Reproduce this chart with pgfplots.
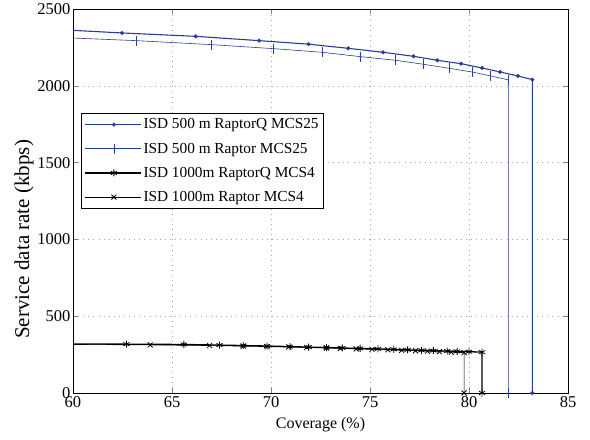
\documentclass[border=0pt]{standalone}
\usepackage{pgfplots}
\pgfplotsset{compat=1.18}
\usepackage{fontspec}
\setmainfont{Liberation Serif}
\definecolor{mblue}{RGB}{40,62,150}

\begin{document}
\begin{tikzpicture}
\begin{axis}[
    scale only axis,
    width=495pt, height=384pt,
    xmin=60, xmax=85,
    ymin=0, ymax=2500,
    xtick={60,65,...,85},
    ytick={0,500,...,2500},
    tick align=inside,
    major tick length=5pt,
    xmajorgrids=true, ymajorgrids=true,
    major grid style={gray!70, dash pattern=on 0.6pt off 4.5pt},
    axis line style={black, line width=0.8pt},
    /pgf/number format/assume math mode=true,
    /pgf/number format/1000 sep={},
    tick label style={font=\fontsize{16.5}{17}\selectfont},
    yticklabel style={xshift=1pt},
    xlabel={Coverage (\%)},
    ylabel={Service data rate (kbps)},
    xlabel style={font=\fontsize{16}{17}\selectfont,
        at={(axis description cs:0.5,-0.083)}, anchor=center},
    ylabel style={font=\fontsize{21}{22}\selectfont,
        at={(axis description cs:-0.099,0.40)}, anchor=center},
    legend cell align=left,
    legend image code/.code={
        \path (0pt,0pt) -- (56pt,0pt);
        \draw[mark indices={2}]
        plot coordinates {(5pt,0pt) (29pt,0pt) (53pt,0pt)};},
    legend style={at={(0.016,0.728)}, anchor=north west,
        font=\fontsize{15.3}{17}\selectfont,
        draw=black, line width=0.6pt, inner sep=3pt,
        row sep=8.5pt},
]
% ISD 500 m RaptorQ MCS25
\addplot[color=mblue, line width=1.1pt, mark=*, mark size=1.4pt,
    mark indices={2,3,4,5,6,7,8,9,10,11,12,13,14,15}]
    coordinates {
    (60,2361)(62.47,2344)(66.2,2322)(69.4,2294)(71.9,2271)(73.9,2244)
    (75.66,2218)(77.2,2192)(78.4,2166)(79.6,2144)(80.66,2116)(81.57,2090)
    (82.47,2064)(83.2,2040)(83.2,0)
    };
\addlegendentry{ISD 500 m RaptorQ MCS25}
% ISD 500 m Raptor MCS25
\addplot[color=mblue, line width=0.6pt, mark=|, mark size=5pt,
    mark options={line width=0.6pt},
    mark indices={2,3,4,5,6,7,8,9,10,11,12,13}]
    coordinates {
    (60,2311)(63.2,2294)(67.0,2268)(70.1,2242)(72.6,2218)(74.5,2190)
    (76.3,2166)(77.7,2140)(79.0,2114)(80.15,2090)(81.1,2064)(82.0,2038)
    (82.0,0)
    };
\addlegendentry{ISD 500 m Raptor MCS25}
% ISD 1000m RaptorQ MCS4
\addplot[color=black, line width=1.3pt, mark=asterisk, mark size=3.5pt,
    mark options={line width=0.8pt},
    mark indices={2,3,4,5,6,7,8,9,10,11,12,13,14,15,16,17,18,19,20,21}]
    coordinates {
    (60,319)(62.7,318)(65.6,316)(67.4,312)(68.6,309)(69.8,306)(70.96,302)
    (71.9,299)(72.8,296)(73.6,293)(74.5,290)(75.4,287)(76.2,284)(76.9,281)
    (77.6,278)(78.2,276)(78.9,273)(79.4,271)(80.0,269)(80.66,266)(80.66,0)
    };
\addlegendentry{ISD 1000m RaptorQ MCS4}
% ISD 1000m Raptor MCS4
\addplot[color=black, line width=0.6pt, mark=x, mark size=3.5pt,
    mark options={line width=0.8pt},
    mark indices={2,3,4,5,6,7,8,9,10,11,12,13,14,15,16,17,18,19,20}]
    coordinates {
    (60,316)(63.9,313)(66.9,309)(68.6,305)(69.8,302)(70.9,299)(71.8,296)
    (72.8,293)(73.5,290)(74.3,287)(75.1,284)(75.9,281)(76.6,278)(77.3,275)
    (77.9,272)(78.5,269)(79.1,266)(79.75,263)(79.75,0)
    };
\addlegendentry{ISD 1000m Raptor MCS4}
\path (rel axis cs:0,0) ++(-73pt,-46pt) coordinate (bbll);
\path (rel axis cs:1,1) ++(22pt,9pt) coordinate (bbur);
\end{axis}
\useasboundingbox (bbll) rectangle (bbur);
\end{tikzpicture}
\end{document}
